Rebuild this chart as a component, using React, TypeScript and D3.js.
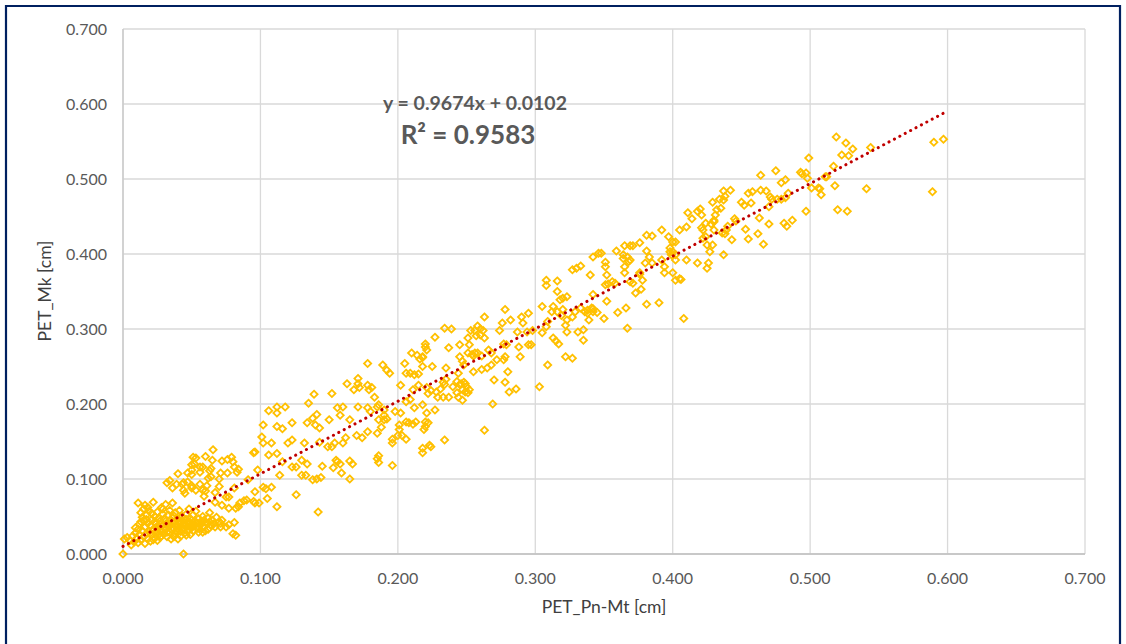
import React from 'react';
import * as d3 from 'd3';

// axis ticks and titles
const xTicks = [0, 0.1, 0.2, 0.3, 0.4, 0.5, 0.6, 0.7];
const yTicks = [0, 0.1, 0.2, 0.3, 0.4, 0.5, 0.6, 0.7];
const xTitle = 'PET_Pn-Mt [cm]';
const yTitle = 'PET_Mk [cm]';

// linear trendline as printed on the chart
const trendSlope = 0.9674;
const trendIntercept = 0.0102;
const trendRange = [0, 0.597];
const trendLabel = 'y = 0.9674x + 0.0102';
const r2Label = 'R² = 0.9583';

// [PET_Pn-Mt, PET_Mk]
const clusterPoints = [
  [0.000, 0.000], [0.001, 0.020], [0.003, 0.022], [0.005, 0.018], [0.007, 0.024], [0.008, 0.016],
  [0.009, 0.028], [0.010, 0.021], [0.011, 0.033], [0.011, 0.068], [0.012, 0.040], [0.012, 0.026],
  [0.013, 0.055], [0.013, 0.019], [0.014, 0.049], [0.014, 0.031], [0.015, 0.045], [0.015, 0.060],
  [0.015, 0.023], [0.016, 0.036], [0.016, 0.065], [0.017, 0.027], [0.017, 0.052], [0.018, 0.020],
  [0.018, 0.041], [0.019, 0.030], [0.019, 0.057], [0.020, 0.038], [0.020, 0.017], [0.021, 0.046],
  [0.021, 0.025], [0.022, 0.069], [0.022, 0.033], [0.023, 0.021], [0.023, 0.050], [0.024, 0.029],
  [0.024, 0.040], [0.025, 0.018], [0.025, 0.056], [0.026, 0.035], [0.026, 0.026], [0.027, 0.044],
  [0.027, 0.022], [0.028, 0.031], [0.028, 0.062], [0.029, 0.038], [0.029, 0.060], [0.030, 0.027],
  [0.030, 0.047], [0.031, 0.066], [0.031, 0.033], [0.032, 0.041], [0.032, 0.023], [0.033, 0.052],
  [0.033, 0.036], [0.034, 0.029], [0.034, 0.045], [0.035, 0.039], [0.035, 0.020], [0.036, 0.068],
  [0.036, 0.048], [0.037, 0.034], [0.037, 0.023], [0.038, 0.043], [0.038, 0.055], [0.039, 0.031],
  [0.039, 0.038], [0.040, 0.047], [0.040, 0.020], [0.041, 0.036], [0.041, 0.058], [0.042, 0.042],
  [0.042, 0.024], [0.043, 0.033], [0.043, 0.050], [0.044, 0.000], [0.044, 0.039], [0.045, 0.045],
  [0.045, 0.028], [0.046, 0.025], [0.046, 0.053], [0.047, 0.037], [0.047, 0.042], [0.048, 0.032],
  [0.048, 0.060], [0.049, 0.026], [0.049, 0.047], [0.050, 0.040], [0.050, 0.035], [0.051, 0.031],
  [0.051, 0.052], [0.052, 0.044], [0.052, 0.038], [0.053, 0.057], [0.054, 0.041], [0.054, 0.034],
  [0.055, 0.047], [0.055, 0.029], [0.056, 0.039], [0.057, 0.044], [0.058, 0.029], [0.058, 0.050],
  [0.059, 0.036], [0.060, 0.042], [0.061, 0.041], [0.062, 0.033], [0.062, 0.048], [0.063, 0.055],
  [0.064, 0.038], [0.065, 0.045], [0.067, 0.036], [0.068, 0.049], [0.070, 0.043], [0.071, 0.041],
  [0.072, 0.045], [0.075, 0.036], [0.077, 0.039], [0.080, 0.027], [0.082, 0.025], [0.071, 0.036],
  [0.081, 0.042],
  [0.006, 0.012], [0.009, 0.035], [0.011, 0.015], [0.013, 0.043], [0.016, 0.014], [0.017, 0.046],
  [0.018, 0.062], [0.020, 0.028], [0.021, 0.054], [0.022, 0.019], [0.023, 0.043], [0.024, 0.035],
  [0.025, 0.030], [0.026, 0.048], [0.027, 0.039], [0.028, 0.024], [0.029, 0.053], [0.030, 0.034],
  [0.031, 0.044], [0.032, 0.029], [0.033, 0.040], [0.034, 0.058], [0.035, 0.033], [0.036, 0.043],
  [0.037, 0.051], [0.038, 0.027], [0.039, 0.046], [0.040, 0.033], [0.041, 0.041], [0.042, 0.030],
  [0.043, 0.045], [0.044, 0.034], [0.045, 0.038], [0.046, 0.046], [0.047, 0.030], [0.048, 0.043],
  [0.049, 0.036], [0.050, 0.045], [0.051, 0.038], [0.053, 0.042], [0.055, 0.036], [0.057, 0.040],
  [0.059, 0.045], [0.060, 0.031], [0.063, 0.043], [0.066, 0.040],
];

const lowPoints = [
  [0.0655, 0.139], [0.051, 0.129], [0.060, 0.130], [0.050, 0.119], [0.056, 0.116], [0.063, 0.111],
  [0.047, 0.108], [0.040, 0.107], [0.056, 0.109], [0.071, 0.108], [0.076, 0.108], [0.079, 0.129],
  [0.080, 0.123], [0.081, 0.116], [0.083, 0.109], [0.072, 0.124], [0.062, 0.101], [0.070, 0.100],
  [0.095, 0.135], [0.032, 0.095], [0.036, 0.088], [0.043, 0.093], [0.050, 0.088], [0.045, 0.081],
  [0.053, 0.085], [0.058, 0.085], [0.059, 0.077], [0.067, 0.069], [0.072, 0.065], [0.077, 0.061],
  [0.082, 0.061], [0.090, 0.072], [0.095, 0.070],
  [0.139, 0.213], [0.135, 0.201], [0.106, 0.191], [0.112, 0.196], [0.118, 0.196], [0.112, 0.188],
  [0.102, 0.172], [0.112, 0.170], [0.116, 0.167], [0.123, 0.175], [0.134, 0.175], [0.138, 0.181],
  [0.140, 0.172], [0.141, 0.186], [0.101, 0.156], [0.102, 0.148], [0.108, 0.148], [0.106, 0.132],
  [0.112, 0.134], [0.116, 0.123], [0.120, 0.148], [0.123, 0.152], [0.132, 0.148], [0.130, 0.125],
  [0.123, 0.116], [0.126, 0.116], [0.130, 0.105], [0.133, 0.105], [0.134, 0.120], [0.138, 0.099],
  [0.141, 0.100], [0.114, 0.105], [0.098, 0.112], [0.096, 0.136], [0.102, 0.089], [0.104, 0.087],
  [0.108, 0.089], [0.096, 0.083], [0.096, 0.068], [0.099, 0.068], [0.105, 0.074], [0.112, 0.063],
  [0.126, 0.079], [0.142, 0.056], [0.091, 0.099], [0.085, 0.068], [0.088, 0.071], [0.084, 0.063],
  [0.075, 0.076], [0.065, 0.125], [0.053, 0.128], [0.052, 0.120], [0.058, 0.116], [0.064, 0.114],
  [0.076, 0.126], [0.084, 0.113], [0.050, 0.112], [0.050, 0.106], [0.064, 0.103], [0.034, 0.098],
  [0.039, 0.093], [0.044, 0.095], [0.047, 0.096], [0.050, 0.091], [0.044, 0.085], [0.056, 0.093],
  [0.061, 0.091], [0.060, 0.084], [0.067, 0.082], [0.070, 0.090], [0.081, 0.088], [0.077, 0.076],
];

const midPoints = [
  [0.220, 0.280], [0.210, 0.268], [0.214, 0.265], [0.218, 0.262], [0.205, 0.254], [0.209, 0.241],
  [0.206, 0.241], [0.212, 0.239], [0.215, 0.240], [0.218, 0.250], [0.178, 0.254], [0.189, 0.252],
  [0.192, 0.245], [0.194, 0.241], [0.163, 0.227], [0.171, 0.234], [0.171, 0.227], [0.168, 0.219],
  [0.172, 0.222], [0.178, 0.225], [0.181, 0.222], [0.179, 0.219], [0.183, 0.209], [0.202, 0.225],
  [0.211, 0.219], [0.215, 0.225], [0.221, 0.222], [0.152, 0.214], [0.143, 0.168], [0.156, 0.195],
  [0.160, 0.196], [0.158, 0.185], [0.165, 0.179], [0.150, 0.179], [0.171, 0.196], [0.178, 0.195],
  [0.180, 0.190], [0.185, 0.196], [0.186, 0.179], [0.190, 0.179], [0.188, 0.169], [0.185, 0.161],
  [0.178, 0.163], [0.174, 0.155], [0.170, 0.158], [0.162, 0.155], [0.160, 0.148], [0.154, 0.148],
  [0.149, 0.143], [0.152, 0.143], [0.143, 0.149], [0.145, 0.117], [0.144, 0.102], [0.153, 0.115],
  [0.155, 0.125], [0.156, 0.123], [0.158, 0.120], [0.165, 0.124], [0.167, 0.120], [0.165, 0.100],
  [0.159, 0.108], [0.186, 0.131], [0.185, 0.127], [0.186, 0.122], [0.196, 0.118], [0.196, 0.148],
  [0.196, 0.153], [0.200, 0.158], [0.203, 0.158], [0.206, 0.153], [0.201, 0.166], [0.201, 0.172],
  [0.206, 0.176], [0.208, 0.175], [0.211, 0.173], [0.213, 0.176], [0.219, 0.166], [0.220, 0.176],
  [0.218, 0.199], [0.212, 0.195], [0.202, 0.188], [0.198, 0.190], [0.190, 0.185], [0.192, 0.180],
  [0.186, 0.199], [0.190, 0.192], [0.206, 0.203], [0.209, 0.206], [0.223, 0.145], [0.218, 0.141],
];

const upperMidPoints = [
  [0.227, 0.289], [0.234, 0.301], [0.239, 0.300], [0.237, 0.275], [0.225, 0.250], [0.235, 0.248],
  [0.245, 0.263], [0.245, 0.279], [0.252, 0.279], [0.251, 0.288], [0.253, 0.298], [0.256, 0.298],
  [0.258, 0.304], [0.260, 0.300], [0.262, 0.298], [0.263, 0.288], [0.260, 0.292], [0.257, 0.291],
  [0.263, 0.316], [0.256, 0.268], [0.251, 0.268], [0.254, 0.266], [0.255, 0.264], [0.258, 0.268],
  [0.261, 0.264], [0.266, 0.272], [0.268, 0.268], [0.248, 0.252], [0.247, 0.257], [0.244, 0.241],
  [0.255, 0.243], [0.261, 0.246], [0.265, 0.248], [0.268, 0.252], [0.272, 0.259], [0.274, 0.298],
  [0.278, 0.326], [0.276, 0.308], [0.282, 0.312], [0.279, 0.279], [0.277, 0.280], [0.278, 0.263],
  [0.277, 0.259], [0.289, 0.263], [0.288, 0.276], [0.287, 0.296], [0.290, 0.316], [0.291, 0.308],
  [0.295, 0.321], [0.294, 0.296], [0.295, 0.279], [0.297, 0.279], [0.298, 0.298], [0.305, 0.295],
  [0.303, 0.223], [0.309, 0.252], [0.308, 0.303], [0.309, 0.310], [0.305, 0.330], [0.312, 0.323],
  [0.313, 0.330], [0.316, 0.323], [0.320, 0.326], [0.319, 0.318], [0.323, 0.312], [0.327, 0.316],
  [0.329, 0.323], [0.333, 0.328], [0.338, 0.325], [0.341, 0.328], [0.342, 0.323], [0.339, 0.312],
  [0.322, 0.305], [0.323, 0.296], [0.331, 0.296], [0.313, 0.288], [0.315, 0.284], [0.317, 0.280],
  [0.335, 0.285], [0.322, 0.263], [0.327, 0.261], [0.308, 0.365], [0.308, 0.358], [0.316, 0.364],
  [0.316, 0.350], [0.320, 0.341], [0.323, 0.343], [0.318, 0.339], [0.342, 0.346], [0.327, 0.379],
  [0.330, 0.381], [0.333, 0.384], [0.340, 0.372], [0.342, 0.396], [0.346, 0.401],
  [0.234, 0.152], [0.218, 0.135], [0.224, 0.143], [0.227, 0.192], [0.221, 0.188], [0.222, 0.175],
  [0.220, 0.170], [0.229, 0.209], [0.233, 0.209], [0.237, 0.209], [0.228, 0.216], [0.222, 0.214],
  [0.224, 0.218], [0.231, 0.220], [0.233, 0.229], [0.235, 0.233], [0.234, 0.226], [0.240, 0.223],
  [0.243, 0.230], [0.245, 0.226], [0.246, 0.227], [0.248, 0.229], [0.249, 0.227], [0.250, 0.223],
  [0.247, 0.219], [0.249, 0.216], [0.251, 0.215], [0.252, 0.219], [0.243, 0.215], [0.244, 0.209],
  [0.247, 0.205], [0.263, 0.165], [0.269, 0.200], [0.270, 0.232], [0.278, 0.229], [0.281, 0.216],
  [0.286, 0.220], [0.280, 0.243], [0.218, 0.263], [0.221, 0.272], [0.220, 0.276], [0.216, 0.260],
];

const highPoints = [
  [0.519, 0.556], [0.526, 0.548], [0.523, 0.532], [0.528, 0.531], [0.531, 0.540], [0.499, 0.528],
  [0.517, 0.517], [0.518, 0.491], [0.520, 0.459], [0.527, 0.457], [0.493, 0.509], [0.497, 0.508],
  [0.498, 0.501], [0.501, 0.488], [0.507, 0.487], [0.508, 0.479], [0.512, 0.503], [0.497, 0.457],
  [0.475, 0.511], [0.464, 0.505], [0.479, 0.495], [0.482, 0.499], [0.484, 0.481], [0.482, 0.475],
  [0.479, 0.473], [0.476, 0.473], [0.471, 0.476], [0.472, 0.473], [0.470, 0.463], [0.464, 0.485],
  [0.468, 0.484], [0.458, 0.483], [0.455, 0.481], [0.450, 0.469], [0.452, 0.465], [0.457, 0.468],
  [0.463, 0.448], [0.470, 0.440], [0.462, 0.427], [0.466, 0.413], [0.455, 0.420], [0.453, 0.433],
  [0.481, 0.441], [0.483, 0.437], [0.487, 0.445], [0.442, 0.485], [0.437, 0.484], [0.438, 0.477],
  [0.434, 0.473], [0.437, 0.472], [0.429, 0.469], [0.435, 0.461], [0.432, 0.459], [0.431, 0.452],
  [0.430, 0.445], [0.430, 0.443], [0.428, 0.440], [0.430, 0.432], [0.445, 0.447], [0.446, 0.444],
  [0.440, 0.437], [0.439, 0.432], [0.436, 0.428], [0.438, 0.427], [0.443, 0.419], [0.421, 0.435],
  [0.422, 0.432], [0.420, 0.460], [0.418, 0.457], [0.421, 0.452], [0.414, 0.447], [0.411, 0.455],
  [0.424, 0.441], [0.424, 0.423], [0.422, 0.421], [0.425, 0.412], [0.427, 0.403], [0.429, 0.412],
  [0.426, 0.388], [0.425, 0.381], [0.437, 0.399], [0.418, 0.388], [0.410, 0.436], [0.405, 0.432],
  [0.392, 0.432], [0.397, 0.423], [0.400, 0.416], [0.402, 0.416], [0.398, 0.408], [0.400, 0.403],
  [0.398, 0.403], [0.399, 0.399], [0.402, 0.399], [0.402, 0.392], [0.392, 0.392], [0.394, 0.383],
  [0.394, 0.375], [0.400, 0.375], [0.402, 0.365], [0.405, 0.367], [0.406, 0.366], [0.410, 0.392],
  [0.408, 0.314], [0.381, 0.425], [0.385, 0.424], [0.376, 0.415], [0.369, 0.411], [0.371, 0.411],
  [0.365, 0.411], [0.359, 0.404], [0.348, 0.401], [0.364, 0.399], [0.367, 0.396], [0.364, 0.394],
  [0.365, 0.383], [0.368, 0.390], [0.369, 0.392], [0.351, 0.389], [0.351, 0.383], [0.381, 0.404],
  [0.383, 0.396], [0.380, 0.388], [0.385, 0.388], [0.376, 0.375], [0.376, 0.373], [0.378, 0.365],
  [0.365, 0.375], [0.352, 0.372], [0.356, 0.363], [0.351, 0.359], [0.353, 0.360], [0.358, 0.361],
  [0.369, 0.363], [0.371, 0.361], [0.373, 0.348], [0.377, 0.353], [0.381, 0.333], [0.390, 0.335],
  [0.366, 0.328], [0.360, 0.322], [0.352, 0.337], [0.350, 0.314], [0.345, 0.322], [0.342, 0.327],
  [0.367, 0.301], [0.336, 0.323], [0.338, 0.321], [0.335, 0.299],
];

const topPoints = [
  [0.544, 0.542], [0.511, 0.503], [0.494, 0.507], [0.541, 0.487], [0.590, 0.549], [0.597, 0.553],
  [0.589, 0.483], [0.506, 0.488],
];

const W = 1126;
const H = 644;
const plot = { left: 123, right: 1085, top: 29, bottom: 554 };
const font = 'Lato, "Open Sans", sans-serif';

export default function App() {
  const x = d3.scaleLinear().domain([0, 0.7]).range([plot.left, plot.right]);
  const y = d3.scaleLinear().domain([0, 0.7]).range([plot.bottom, plot.top]);
  const fmt = d3.format('.3f');

  const points = [...clusterPoints, ...lowPoints, ...midPoints, ...upperMidPoints, ...highPoints, ...topPoints];

  const trend = d3.line<number>()
    .x((d) => x(d))
    .y((d) => y(trendSlope * d + trendIntercept));

  const r = 3.6;
  const diamond = `M0,${-r}L${r},0L0,${r}L${-r},0Z`;

  return (
    <svg width={W} height={H} style={{ position: 'absolute', left: 0, top: 0, background: '#fff' }}>
      <rect x={0} y={0} width={W} height={H} fill="#fff" />
      <path d={`M6,${H + 5}V6H1120V${H + 5}`} fill="none" stroke="#002060" strokeWidth={2.2} />

      {xTicks.map((t) => (
        <line key={'gx' + t} x1={x(t)} x2={x(t)} y1={y(0.7)} y2={y(0)} stroke="#D9D9D9" strokeWidth={1.3} />
      ))}
      {yTicks.map((t) => (
        <line key={'gy' + t} x1={x(0)} x2={x(0.7)} y1={y(t)} y2={y(t)} stroke="#D9D9D9" strokeWidth={1.3} />
      ))}
      <line x1={x(0)} x2={x(0.7)} y1={y(0)} y2={y(0)} stroke="#BFBFBF" strokeWidth={1.5} />
      <line x1={x(0)} x2={x(0)} y1={y(0)} y2={y(0.7)} stroke="#C8C8C8" strokeWidth={1.3} />

      {yTicks.map((t) => (
        <text key={'ty' + t} x={x(0) - 16} y={y(t)} dy="0.35em" textAnchor="end"
          fontFamily={font} fontSize={16} fill="#595959">{fmt(t)}</text>
      ))}
      {xTicks.map((t) => (
        <text key={'tx' + t} x={x(t)} y={y(0) + 24} dy="0.35em" textAnchor="middle"
          fontFamily={font} fontSize={16} fill="#595959">{fmt(t)}</text>
      ))}

      <text x={604} y={607} dy="0.35em" textAnchor="middle"
        fontFamily={font} fontSize={17.5} fill="#404040">{xTitle}</text>
      <text transform={`translate(45,291) rotate(-90)`} dy="0.35em" textAnchor="middle"
        fontFamily={font} fontSize={17.5} fill="#404040">{yTitle}</text>

      <g fill="none" stroke="#FFC000" strokeWidth={1.8}>
        {points.map((p, i) => (
          <path key={i} d={diamond} transform={`translate(${x(p[0])},${y(p[1])})`} />
        ))}
      </g>

      <path d={trend(trendRange) || ''} fill="none" stroke="#C00000" strokeWidth={3}
        strokeLinecap="round" strokeDasharray="0.1 6" />

      <text x={475} y={103} dy="0.35em" textAnchor="middle" fontFamily={font} fontSize={19.5}
        fontWeight="bold" fill="#595959">{trendLabel}</text>
      <text x={468} y={135} dy="0.35em" textAnchor="middle" fontFamily={font} fontSize={26}
        fontWeight="bold" fill="#595959">{r2Label}</text>
    </svg>
  );
}
